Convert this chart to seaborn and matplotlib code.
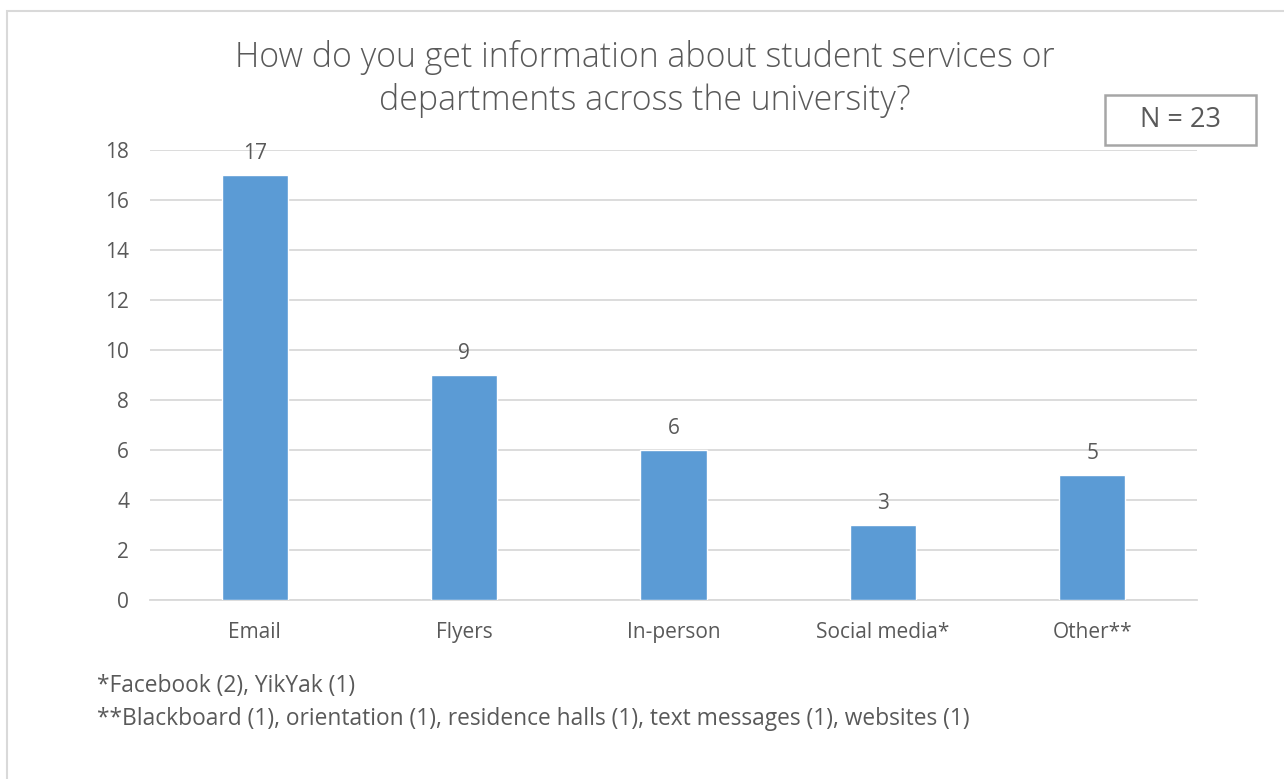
import matplotlib
matplotlib.use("Agg")
import matplotlib.pyplot as plt
import seaborn as sns
import pandas as pd
from matplotlib.patches import Rectangle

categories = ["Email", "Flyers", "In-person", "Social media*", "Other**"]
counts = [17, 9, 6, 3, 5]
y_ticks = [0, 2, 4, 6, 8, 10, 12, 14, 16, 18]

title = "How do you get information about student services or\ndepartments across the university?"
n_label = "N = 23"
footnotes = [
    "*Facebook (2), YikYak (1)",
    "**Blackboard (1), orientation (1), residence halls (1), text messages (1), websites (1)",
]

bar_color = "#5B9BD5"
text_color = "#595959"
grid_color = "#D9D9D9"

sns.set_theme(style="white")
plt.rcParams["font.family"] = ["Open Sans", "DejaVu Sans"]

df = pd.DataFrame({"category": categories, "count": counts})

fig = plt.figure(figsize=(12.84, 7.79), dpi=100)
ax = fig.add_axes([150 / 1284, 1 - 600 / 779, (1197 - 150) / 1284, (600 - 150) / 779])

sns.barplot(data=df, x="category", y="count", color=bar_color, width=0.316,
            saturation=1, ax=ax, zorder=3)

ax.set_ylim(0, 18)
ax.set_yticks(y_ticks)
ax.yaxis.grid(True, color=grid_color, linewidth=1.3, zorder=0)
ax.set_axisbelow(True)
for side in ["top", "right", "left"]:
    ax.spines[side].set_visible(False)
ax.spines["bottom"].set_color(grid_color)
ax.spines["bottom"].set_linewidth(1.3)
ax.tick_params(axis="both", length=0, labelsize=15, labelcolor=text_color)
ax.tick_params(axis="y", pad=15)
ax.tick_params(axis="x", pad=16)
ax.set_xlabel("")
ax.set_ylabel("")

for container in ax.containers:
    ax.bar_label(container, labels=[str(v) for v in counts], padding=8,
                 fontsize=15, color=text_color)

fig.text(645 / 1284, 1 - 79 / 779, title, ha="center", va="center",
         fontsize=24.4, color=text_color, linespacing=1.33, fontweight="light")

# N label in a bordered box
fig.patches.append(Rectangle((1105 / 1284, 1 - 145 / 779), 151 / 1284, 50 / 779,
                             transform=fig.transFigure, fill=False,
                             edgecolor="#A6A6A6", linewidth=1.8))
fig.text(1181 / 1284, 1 - 120 / 779, n_label, ha="center", va="center",
         fontsize=19.5, color=text_color)

for i, note in enumerate(footnotes):
    fig.text(97 / 1284, 1 - (686 + 33 * i) / 779, note, ha="left", va="center",
             fontsize=16.4, color=text_color)

# chart area border
fig.patches.append(Rectangle((7 / 1284, -0.05), 1.2, 1 - 11 / 779 + 0.05,
                             transform=fig.transFigure, fill=False,
                             edgecolor="#D9D9D9", linewidth=1.5))

fig.savefig("out.png", dpi=100)
